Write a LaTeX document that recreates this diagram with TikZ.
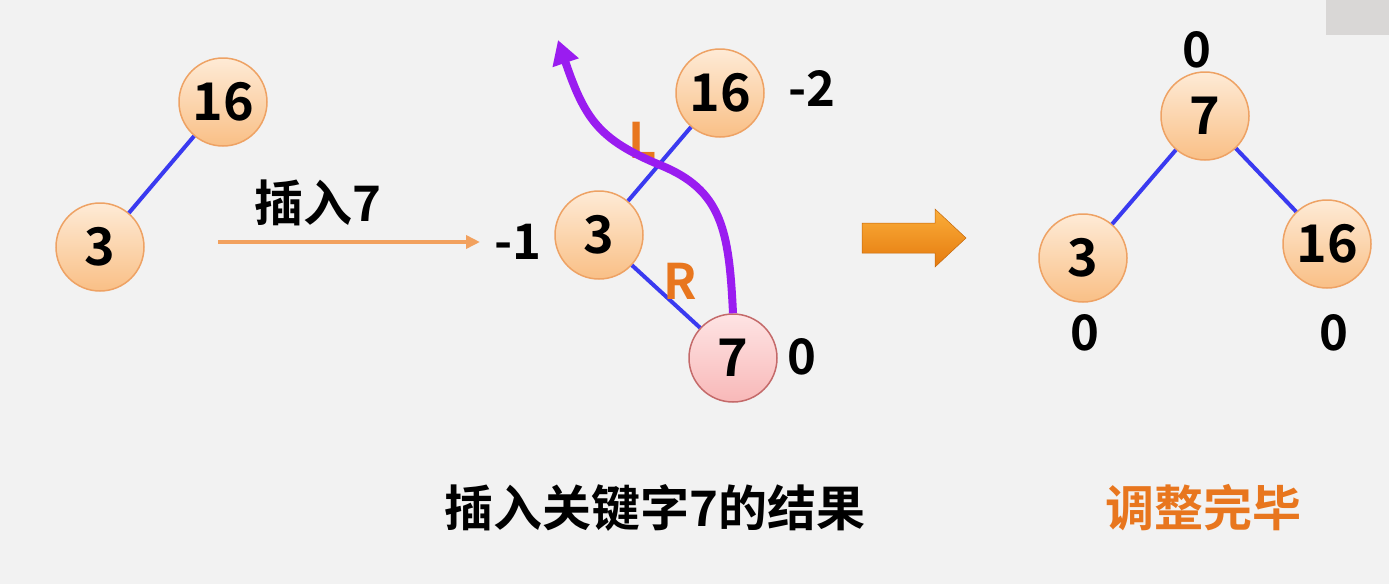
\documentclass[tikz,border=0pt]{standalone}
\usepackage{fontspec}
\setmainfont{Noto Sans CJK SC}[BoldFont={* Bold}]
\newfontfamily\cjkb{Noto Sans CJK SC Bold}
\usetikzlibrary{arrows.meta}
\definecolor{bg}{HTML}{F2F2F2}
\definecolor{ndtop}{HTML}{FEEBD6}
\definecolor{ndbot}{HTML}{F9BF86}
\definecolor{ndline}{HTML}{EEA264}
\definecolor{pktop}{HTML}{FEE4E4}
\definecolor{pkbot}{HTML}{F8B8B8}
\definecolor{pkline}{HTML}{C46A6A}
\definecolor{edge}{HTML}{3A3AF0}
\definecolor{lab}{HTML}{E8761E}
\definecolor{thinarr}{HTML}{F2A15E}
\definecolor{purp}{HTML}{9A1CF0}
\definecolor{blkA}{HTML}{FBAE3A}
\definecolor{blkB}{HTML}{E57A0E}
\definecolor{corner}{HTML}{D9D7D6}
\begin{document}
\begin{tikzpicture}[x=1pt,y=-1pt,
  every node/.style={font=\cjkb\fontsize{49}{54}\selectfont},
  tnode/.style={circle,minimum size=88pt,inner sep=0pt,draw=ndline,line width=1.5pt,top color=ndtop,bottom color=ndbot,font=\cjkb\fontsize{52}{56}\selectfont},
  pnode/.style={circle,minimum size=88pt,inner sep=0pt,draw=pkline,line width=1.5pt,top color=pktop,bottom color=pkbot,font=\cjkb\fontsize{52}{56}\selectfont},
  tedge/.style={draw=edge,line width=4pt},
  olab/.style={text=lab}]
\path[fill=bg] (0,0) rectangle (1389,584);
\useasboundingbox (0,0) rectangle (1389,584);
\fill[corner] (1326,0) rectangle (1389,35);
% left tree
\node[tnode] (a16) at (223,102) {16};
\node[tnode] (a3) at (100,247) {3};
\draw[tedge] (a3) -- (a16);
\node (ins) at (318,203) {插入7};
\coordinate (ta) at (218,242);
\coordinate (tb) at (480,242);
\draw[thinarr,line width=4.5pt,-{Triangle[length=14pt,width=13pt]}] (ta) -- (tb);
% middle tree
\node[tnode] (b16) at (720,93) {16};
\node[tnode] (b3) at (599,235) {3};
\node[pnode] (b7) at (733,358) {7};
\draw[tedge] (b3) -- (b16);
\draw[tedge] (b3) -- (b7);
\node (m2) at (812,88) {-2};
\node (m1) at (518,242) {-1};
\node (m0) at (802,357) {0};
\node[olab] (L) at (643,140) {L};
\node[olab] (R) at (680,281) {R};
\coordinate (pa) at (558,40);
\draw[purp,line width=8pt,-{Triangle[length=24pt,width=26pt]}] (b7.north) .. controls (729,230) and (722,190) .. (660,165) .. controls (600,140) and (585,120) .. (pa);
% block arrow
\shade[top color=blkA,bottom color=blkB,draw=blkB!85!black,line width=0.5pt] (862,223) -- (935,223) -- (935,209) -- (966,238) -- (935,267) -- (935,253) -- (862,253) -- cycle;
% right tree
\node[tnode] (c7) at (1205,116) {7};
\node[tnode] (c3) at (1083,258) {3};
\node[tnode] (c16) at (1327,244) {16};
\draw[tedge] (c3) -- (c7);
\draw[tedge] (c16) -- (c7);
\node (r0a) at (1197,50) {0};
\node (r0b) at (1085,333) {0};
\node (r0c) at (1334,333) {0};
% captions
\node (cap1) at (655,508) {插入关键字7的结果};
\node[olab] (cap2) at (1203,508) {调整完毕};
\end{tikzpicture}
\end{document}
